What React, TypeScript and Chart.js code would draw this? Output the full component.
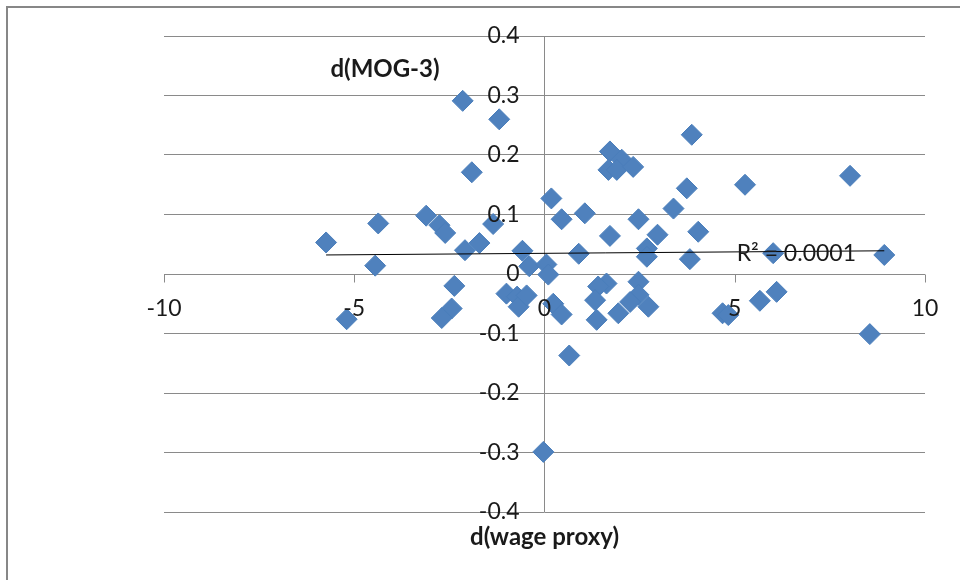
import React, { useEffect, useRef } from "react";
import { Chart, registerables } from "chart.js";

Chart.register(...registerables);

// ---- data ----
const xValues = [
  -5.74, -5.2, -4.37, -4.45, -3.11, -2.76, -2.61, -2.15, -1.91, -1.19, -2.09, -1.71, -1.35,
  -2.37, -2.44, -2.7, -1.0, -0.72, -0.68, -0.47, -0.58, -0.4,
  0.05, 0.1, 0.18, 0.45, 0.23, 0.45, 0.65, -0.03, 0.9, 1.06, 1.72, 1.72, 2.03, 1.68, 1.9,
  2.33, 2.47, 2.97, 3.39, 3.74, 3.87, 4.04, 2.69, 2.69, 3.82, 1.63, 1.41, 2.47, 1.33, 2.47,
  2.25, 2.73, 1.94, 1.37,
  4.68, 4.83, 5.27, 5.66, 6.01, 6.1, 8.03, 8.55, 8.93,
];
const yValues = [
  0.053, -0.076, 0.085, 0.014, 0.098, 0.082, 0.069, 0.291, 0.171, 0.26, 0.04, 0.052, 0.084,
  -0.02, -0.058, -0.074, -0.033, -0.038, -0.055, -0.036, 0.039, 0.013,
  0.016, -0.001, 0.127, 0.092, -0.05, -0.068, -0.137, -0.299, 0.034, 0.102, 0.064, 0.206, 0.192, 0.175, 0.175,
  0.18, 0.092, 0.066, 0.11, 0.144, 0.234, 0.071, 0.043, 0.029, 0.025, -0.016, -0.021, -0.013, -0.044, -0.035,
  -0.047, -0.055, -0.066, -0.077,
  -0.066, -0.069, 0.15, -0.045, 0.035, -0.03, 0.165, -0.101, 0.032,
];
const trendX = [-5.74, 8.93];
const trendY = [0.032, 0.039];
const xTickValues = [-10, -5, 0, 5, 10];
const xTickLabels = ["-10", "-5", "0", "5", "10"];
const yTickValues = [0.4, 0.3, 0.2, 0.1, 0, -0.1, -0.2, -0.3, -0.4];
const yTickLabels = ["0.4", "0.3", "0.2", "0.1", "0", "-0.1", "-0.2", "-0.3", "-0.4"];
const xTitle = "d(wage proxy)";
const yTitle = "d(MOG-3)";
const r2Label = "R\u00B2 = 0.0001";
const r2At = { x: 5.05, y: 0.035 };

// ---- styles ----
const GRID = "#8a8a8a";
const TEXT = "#1a1a1a";
const BLUE = "#4F81BD";
const BLUE_EDGE = "#4A7EBB";
const FONT = "Lato";

const overlay = {
  id: "overlay",
  beforeDatasetsDraw(chart: any) {
    const { ctx, scales } = chart;
    const x = scales.x;
    const y = scales.y;
    const y0 = Math.round(y.getPixelForValue(0)) + 0.5;
    ctx.save();
    ctx.strokeStyle = GRID;
    ctx.lineWidth = 1;
    xTickValues.forEach((v) => {
      const px = Math.round(x.getPixelForValue(v)) + 0.5;
      ctx.beginPath();
      ctx.moveTo(px, y0);
      ctx.lineTo(px, y0 + 8);
      ctx.stroke();
    });
    ctx.restore();
  },
  afterDatasetsDraw(chart: any) {
    const { ctx, scales, chartArea } = chart;
    const x = scales.x;
    const y = scales.y;
    const x0 = x.getPixelForValue(0);
    const y0 = y.getPixelForValue(0);
    ctx.save();
    ctx.fillStyle = TEXT;
    ctx.font = `23px ${FONT}`;
    ctx.textBaseline = "middle";
    ctx.textAlign = "center";
    xTickValues.forEach((v, i) => {
      ctx.fillText(xTickLabels[i], x.getPixelForValue(v), y0 + 35);
    });
    ctx.textAlign = "right";
    yTickValues.forEach((v, i) => {
      ctx.fillText(yTickLabels[i], x0 - 25, y.getPixelForValue(v));
    });
    ctx.textAlign = "left";
    ctx.fillText(r2Label, x.getPixelForValue(r2At.x), y.getPixelForValue(r2At.y));

    ctx.font = `bold 24px ${FONT}`;
    ctx.textAlign = "center";
    ctx.fillText(xTitle, x0, chartArea.bottom + 25);
    ctx.fillText(yTitle, 385, 69);
    ctx.restore();
  },
  afterDraw(chart: any) {
    const { ctx, width, height } = chart;
    ctx.save();
    ctx.strokeStyle = "#878787";
    ctx.lineWidth = 2;
    ctx.beginPath();
    ctx.moveTo(7, height);
    ctx.lineTo(7, 7);
    ctx.lineTo(width, 7);
    ctx.stroke();
    ctx.restore();
  },
};

export default function App() {
  const ref = useRef<HTMLCanvasElement | null>(null);

  useEffect(() => {
    if (!ref.current) return;
    const points = xValues.map((xv, i) => ({ x: xv, y: yValues[i] }));
    const trend = trendX.map((xv, i) => ({ x: xv, y: trendY[i] }));
    const chart = new Chart(ref.current, {
      type: "scatter",
      data: {
        datasets: [
          {
            type: "line",
            label: "trend",
            data: trend,
            borderColor: "#000000",
            borderWidth: 1,
            pointRadius: 0,
            showLine: true,
            fill: false,
          } as any,
          {
            label: "points",
            data: points,
            pointStyle: "rectRot",
            pointRadius: 10.5,
            pointBackgroundColor: BLUE,
            pointBorderColor: BLUE_EDGE,
            pointBorderWidth: 1,
            showLine: false,
          } as any,
        ],
      },
      options: {
        responsive: false,
        maintainAspectRatio: false,
        animation: false,
        events: [],
        layout: { padding: { left: 164, right: 35, top: 36, bottom: 68 } },
        plugins: {
          legend: { display: false },
          tooltip: { enabled: false },
          title: { display: false },
        },
        scales: {
          x: {
            type: "linear",
            min: -10,
            max: 10,
            ticks: { display: false, stepSize: 5 },
            grid: {
              drawTicks: false,
              lineWidth: 1,
              color: (c: any) => (c.tick && c.tick.value === 0 ? GRID : "rgba(0,0,0,0)"),
            },
            border: { display: false },
            afterFit: (s: any) => {
              s.height = 0;
            },
          },
          y: {
            type: "linear",
            min: -0.4,
            max: 0.4,
            ticks: { display: false, stepSize: 0.1 },
            grid: { drawTicks: false, lineWidth: 1, color: GRID },
            border: { display: false },
            afterFit: (s: any) => {
              s.width = 0;
            },
          },
        },
      },
      plugins: [overlay],
    } as any);
    return () => chart.destroy();
  }, []);

  return (
    <div style={{ position: "fixed", left: 0, top: 0, width: 960, height: 580, background: "#ffffff" }}>
      <canvas ref={ref} width={960} height={580} style={{ display: "block" }} />
    </div>
  );
}
